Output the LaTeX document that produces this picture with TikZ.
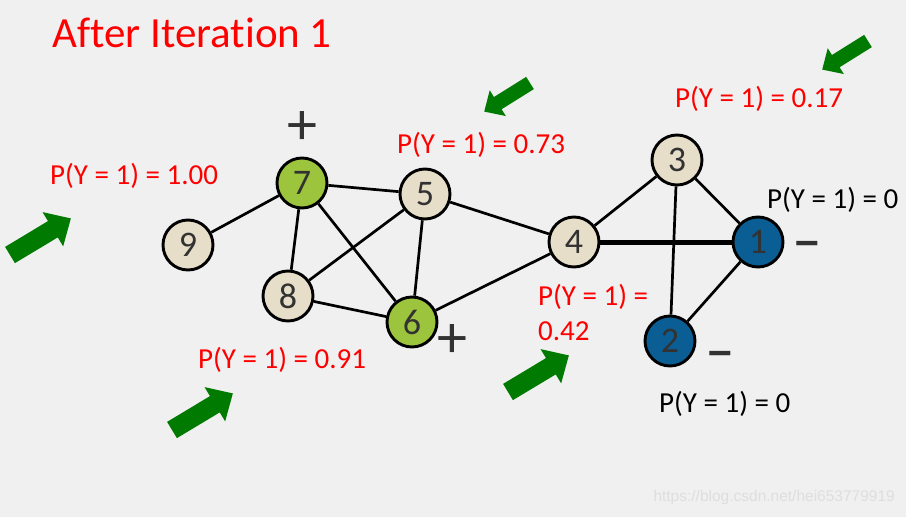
\documentclass[tikz,border=0pt]{standalone}
\usepackage{fontspec}
\usepackage{graphicx}
\setmainfont{Carlito}[Ligatures=NoCommon]
\newfontfamily\wmfont{Liberation Sans}
\usetikzlibrary{positioning,arrows.meta}

\definecolor{bgcol}{RGB}{240,240,240}
\definecolor{nodebeige}{RGB}{230,222,200}
\definecolor{nodegreen}{RGB}{156,196,60}
\definecolor{nodeblue}{RGB}{10,94,148}
\definecolor{arrowgreen}{RGB}{0,122,0}
\definecolor{numtext}{RGB}{50,50,50}
\definecolor{wmgray}{RGB}{222,222,222}

\tikzset{
  vtx/.style={circle,draw=black,line width=2.9pt,minimum size=50pt,inner sep=0pt,
    text=numtext,font=\fontsize{36}{36}\selectfont},
  unl/.style={vtx,fill=nodebeige},
  posv/.style={vtx,fill=nodegreen},
  negv/.style={vtx,fill=nodeblue},
  edge/.style={line width=2.7pt},
  prob/.style={anchor=base west,inner sep=0pt,text=red,font=\fontsize{29}{34}\selectfont},
  probk/.style={prob,text=black},
  sign/.style={inner sep=0pt,text=numtext,font=\fontsize{60}{60}\selectfont},
  bigarrow/.pic={\fill[arrowgreen] (0,-9.5) -- (50,-9.5) -- (50,-20) -- (71,0)
    -- (50,20) -- (50,9.5) -- (0,9.5) -- cycle;}
}

\begin{document}
\begin{tikzpicture}[x=1pt,y=-1pt]
  % 背景
  \fill[bgcol] (0,0) rectangle (906,517);
  \useasboundingbox (0,0) rectangle (906,517);
  % タイトル
  \node[prob,font=\fontsize{43}{43}\selectfont] (title) at (52,47) {After Iteration 1};
  % ノード
  \node[posv] (n7) at (302,183) {7};
  \node[unl]  (n5) at (425,194) {5};
  \node[unl]  (n9) at (188,245) {9};
  \node[unl]  (n8) at (288,296) {8};
  \node[posv] (n6) at (412,322) {6};
  \node[unl]  (n4) at (574,242) {4};
  \node[unl]  (n3) at (677,160) {3};
  \node[negv] (n1) at (758,242) {1};
  \node[negv] (n2) at (670,341) {2};
  % エッジ
  \draw[edge] (n7) -- (n9);
  \draw[edge] (n7) -- (n5);
  \draw[edge] (n7) -- (n8);
  \draw[edge] (n7) -- (n6);
  \draw[edge] (n5) -- (n8);
  \draw[edge] (n5) -- (n6);
  \draw[edge] (n5) -- (n4);
  \draw[edge] (n8) -- (n6);
  \draw[edge] (n6) -- (n4);
  \draw[edge] (n4) -- (n3);
  \draw[line width=5pt] (n4) -- (n1);
  \draw[edge] (n3) -- (n1);
  \draw[edge] (n3) -- (n2);
  \draw[edge] (n1) -- (n2);
  % 符号
  \node[sign] (s7) at (302,128) {+};
  \node[sign] (s6) at (452,341) {+};
  \node[sign] (s1) at (807,251) {\scalebox{1.5}[1]{-}};
  \node[sign] (s2) at (720,361) {\scalebox{1.5}[1]{-}};
  % 確率
  \node[prob]  (p9) at (50,184) {P(Y = 1) = 1.00};
  \node[prob]  (p5) at (397,153) {P(Y = 1) = 0.73};
  \node[prob]  (p3) at (675,107) {P(Y = 1) = 0.17};
  \node[probk] (p1) at (767,208) {P(Y = 1) = 0};
  \node[prob]  (p4) at (538,305) {P(Y = 1) =};
  \node[prob]  (p4b) at (538,340) {0.42};
  \node[prob]  (p8) at (198,368) {P(Y = 1) = 0.91};
  \node[probk] (p2) at (659,412) {P(Y = 1) = 0};
  % 矢印
  \pic[rotate=31] at (10,255) {bigarrow};
  \pic[rotate=31] at (172,430) {bigarrow};
  \pic[rotate=31] at (508,392) {bigarrow};
  \pic[rotate=212,scale=0.76] at (530,83) {bigarrow};
  \pic[rotate=212,scale=0.76] at (868,41) {bigarrow};
  % 透かし
  \node[anchor=east,inner sep=0pt,text=wmgray,font=\wmfont\fontsize{15.5}{16}\selectfont]
    (wm) at (895,497) {https://blog.csdn.net/hei653779919};
\end{tikzpicture}
\end{document}
